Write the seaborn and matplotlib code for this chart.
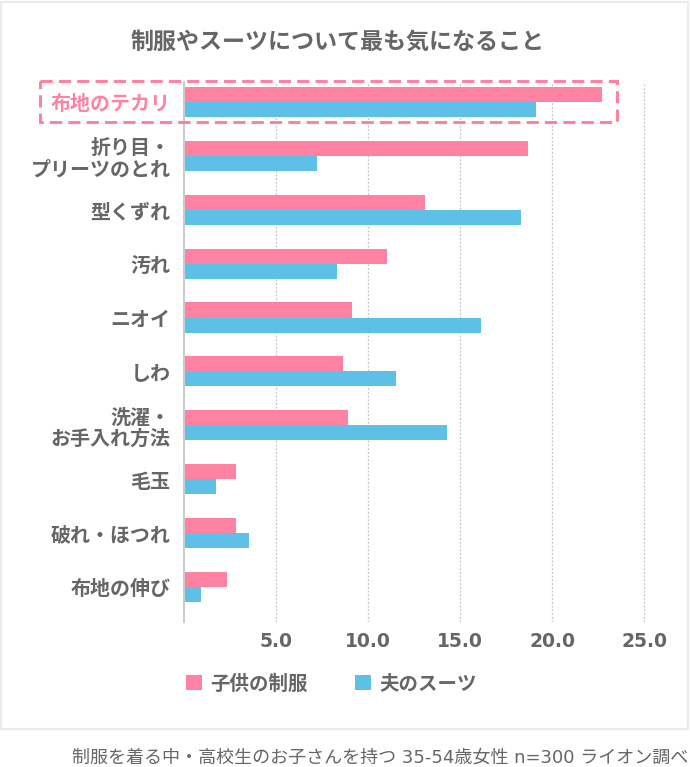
import matplotlib
matplotlib.use("Agg")
import matplotlib.pyplot as plt
import matplotlib.transforms as mtransforms
from matplotlib.patches import Rectangle
import seaborn as sns
import pandas as pd

# ---- data ----
categories = ["布地のテカリ", "折り目・\nプリーツのとれ", "型くずれ", "汚れ", "ニオイ",
              "しわ", "洗濯・\nお手入れ方法", "毛玉", "破れ・ほつれ", "布地の伸び"]
series_names = ["子供の制服", "夫のスーツ"]
kids_uniform = [22.7, 18.7, 13.1, 11.0, 9.1, 8.6, 8.9, 2.8, 2.8, 2.3]
husband_suit = [19.1, 7.2, 18.3, 8.3, 16.1, 11.5, 14.3, 1.7, 3.5, 0.9]
x_ticks = [5, 10, 15, 20, 25]
x_tick_labels = ["5.0", "10.0", "15.0", "20.0", "25.0"]
title = "制服やスーツについて最も気になること"
footer = "制服を着る中・高校生のお子さんを持つ 35-54歳女性 n=300 ライオン調べ"

PINK = "#FF82A2"
BLUE = "#5FC0E7"
GRAY = "#666666"

rows = []
for c, a, b in zip(categories, kids_uniform, husband_suit):
    rows.append({"category": c, "series": series_names[0], "value": a})
    rows.append({"category": c, "series": series_names[1], "value": b})
df = pd.DataFrame(rows)

sns.set_theme(style="white")
plt.rcParams["font.family"] = ["Noto Sans CJK JP", "DejaVu Sans"]

W, H = 690, 767
fig = plt.figure(figsize=(W / 100, H / 100), dpi=100)
fig.patch.set_facecolor("white")

# panel frame
fig.add_artist(Rectangle((1 / W, 1 - 729 / H), 687 / W, 728 / H - 0.5 / H,
                         transform=fig.transFigure, facecolor="none",
                         edgecolor="#ebebeb", lw=1.6))

left, right, top, bottom = 184.3, 648.0, 82, 622
ax = fig.add_axes([left / W, 1 - bottom / H, (right - left) / W, (bottom - top) / H])

bar_width = 0.557
sns.barplot(data=df, x="value", y="category", hue="series", order=categories,
            hue_order=series_names, palette=[PINK, BLUE], saturation=1,
            width=bar_width, ax=ax, errorbar=None, linewidth=0)

ax.set_xlim(0, 25.2)
ax.set_ylim(len(categories) - 1 + 0.65, -0.37)
ax.set_xlabel("")
ax.set_ylabel("")

for s in ["top", "right", "bottom"]:
    ax.spines[s].set_visible(False)
ax.spines["left"].set_color("#cccccc")
ax.spines["left"].set_linewidth(1.5)

ax.set_axisbelow(True)
ax.xaxis.grid(True, linestyle=(0, (1.5, 1.5)), color="#c4c4c4", lw=0.9)
ax.yaxis.grid(False)

ax.set_xticks(x_ticks)
ax.set_xticklabels(x_tick_labels, fontsize=13.5, fontweight="bold", color=GRAY,
                   family="DejaVu Sans")
ax.tick_params(axis="x", length=0, pad=7)
ax.tick_params(axis="y", length=0, pad=10)
ax.set_yticks(range(len(categories)))
ax.set_yticklabels(categories, fontsize=14.4, fontweight="bold", color=GRAY,
                   linespacing=1.05)
ax.get_yticklabels()[0].set_color(PINK)

# highlight box around first category
trans = mtransforms.blended_transform_factory(fig.transFigure, ax.transData)
x0, x1 = 40 / W, 617 / W
ax.add_patch(Rectangle((x0, -0.39), x1 - x0, 0.76, transform=trans, fill=False,
                       edgecolor=PINK, lw=2.2, linestyle=(0, (4, 2)), clip_on=False,
                       zorder=5))

# legend
handles, labels = ax.get_legend_handles_labels()
ax.legend(handles, labels, loc="center left", bbox_to_anchor=(186 / W, 1 - 684 / H),
          bbox_transform=fig.transFigure, ncol=2, frameon=False,
          prop={"size": 14, "weight": "bold"}, labelcolor=GRAY,
          handlelength=0.82, handleheight=0.82, handletextpad=0.45,
          columnspacing=2.4, borderpad=0, borderaxespad=0)

fig.text(338 / W, 1 - 42 / H, title, ha="center", va="center", fontsize=16.6,
         fontweight="bold", color=GRAY)
fig.text(688 / W, 1 - 758 / H, footer, ha="right", va="center", fontsize=13,
         color=GRAY, family=["DejaVu Sans", "Noto Sans CJK JP"])

fig.savefig("out.png", dpi=100)
